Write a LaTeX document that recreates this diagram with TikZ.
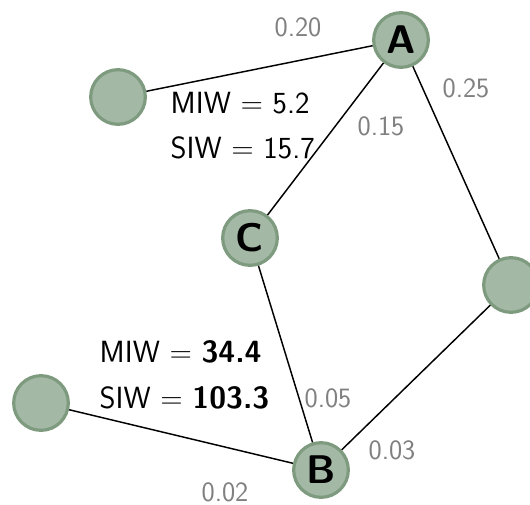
\documentclass[tikz,border=0pt]{standalone}
\usepackage{xcolor}
\definecolor{vfill}{HTML}{A3B8A5}
\definecolor{vdraw}{HTML}{7E9B80}
\renewcommand{\familydefault}{\sfdefault}

\begin{document}
\begin{tikzpicture}[x=0.75pt, y=-0.75pt,
  vertex/.style={circle, fill=vfill, draw=vdraw, line width=2.4pt, minimum size=41pt, inner sep=0pt, font=\fontsize{30}{32}\selectfont\bfseries},
  weight/.style={text=gray, font=\fontsize{21}{23}\selectfont},
  info/.style={anchor=west, font=\fontsize{23}{25}\selectfont},
  edge/.style={line width=1.1pt}]
\useasboundingbox (0,0) rectangle (530,505);
\node [vertex] (A) at (401, 40) {A};
\node [vertex] (P) at (118, 97) {};
\node [vertex] (C) at (250, 238) {C};
\node [vertex] (R) at (511, 285) {};
\node [vertex] (L) at (41, 403) {};
\node [vertex] (B) at (321, 470) {B};
\draw [edge] (P) -- (A);
\draw [edge] (A) -- (C);
\draw [edge] (A) -- (R);
\draw [edge] (C) -- (B);
\draw [edge] (L) -- (B);
\draw [edge] (R) -- (B);
\node [weight] (wpa) at (298, 27) {0.20};
\node [weight] (war) at (466, 88) {0.25};
\node [weight] (wac) at (381, 126) {0.15};
\node [weight] (wcb) at (328, 398) {0.05};
\node [weight] (wrb) at (392, 450) {0.03};
\node [weight] (wlb) at (225, 492) {0.02};
\node [info] (miwc) at (166, 103) {MIW = 5.2};
\node [info] (siwc) at (166, 148) {SIW = 15.7};
\node [info] (miwb) at (95, 352) {MIW = \textbf{34.4}};
\node [info] (siwb) at (95, 398) {SIW = \textbf{103.3}};
\end{tikzpicture}
\end{document}
